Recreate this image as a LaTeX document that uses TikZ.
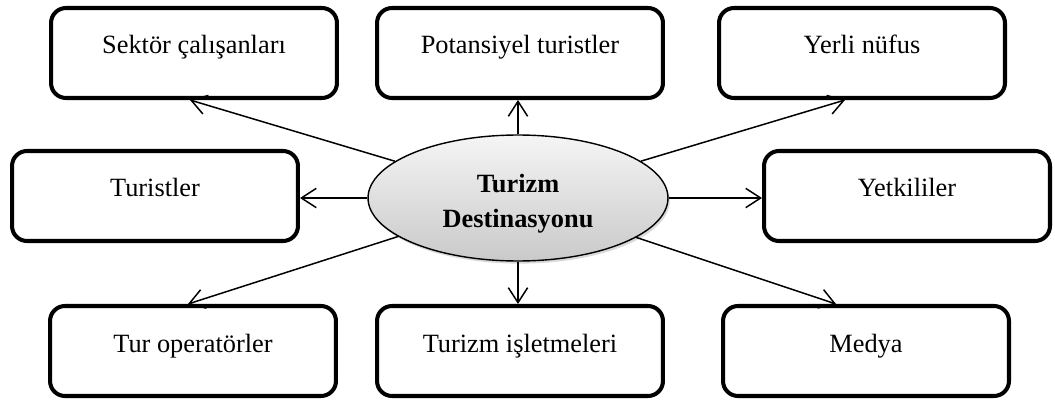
\documentclass[tikz,border=0pt]{standalone}
\usepackage{fontspec}
\setmainfont{Liberation Serif}
\usepackage{tikz}
\usetikzlibrary{arrows.meta,positioning,shapes.geometric,shadows}

\begin{document}
\begin{tikzpicture}[x=0.02cm,y=-0.02cm,
  actor/.style={draw=black,line width=2.3pt,rounded corners=0.3cm,fill=white,
    minimum width=5.72cm,minimum height=1.8cm,inner sep=0pt,
    text height=0.36cm,text depth=0.32cm,font=\fontsize{15}{18}\selectfont},
  hub/.style={ellipse,draw=black,line width=0.8pt,minimum width=6cm,minimum height=2.52cm,
    top color=gray!8,bottom color=gray!42,
    drop shadow={opacity=0.3,shadow xshift=1pt,shadow yshift=-1.5pt}},
  hubtext/.style={align=center,font=\fontsize{15}{20}\selectfont\bfseries},
  link/.style={line width=0.85pt,-{Straight Barb[length=8.5pt,width=11pt]}}]
  \useasboundingbox (0,0) rectangle (1055,402);
  % Stakeholder boxes
  \node[actor] (sek) at (194,53) {Sektör çalışanları};
  \node[actor] (pot) at (520,53) {Potansiyel turistler};
  \node[actor] (yer) at (862,53) {Yerli nüfus};
  \node[actor] (tur) at (155,196) {Turistler};
  \node[actor] (yet) at (907,196) {Yetkililer};
  \node[actor] (top) at (193,351) {Tur operatörler};
  \node[actor] (isl) at (520,351) {Turizm işletmeleri};
  \node[actor] (med) at (866,351) {Medya};
  % Destination
  \node[hub] (dest) at (518,198) {};
  \node[hubtext] (destlbl) at (518,204) {Turizm\\Destinasyonu};
  % Arrows
  \draw[link] (dest) -- ([xshift=-0.08cm]sek.south);
  \draw[link] (dest) -- (dest |- pot.south);
  \draw[link] (dest) -- ([xshift=-0.34cm]yer.south);
  \draw[link] (dest) -- (tur.east |- dest);
  \draw[link] (dest) -- (yet.west |- dest);
  \draw[link] (dest) -- ([xshift=-0.1cm]top.north);
  \draw[link] (dest) -- (dest |- isl.north);
  \draw[link] (dest) -- ([xshift=-0.6cm]med.north);
\end{tikzpicture}
\end{document}
